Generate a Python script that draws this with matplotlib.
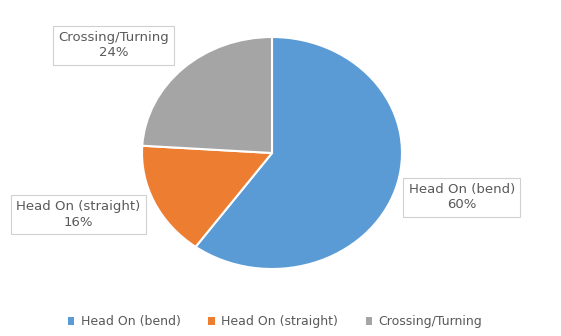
import matplotlib
matplotlib.use('Agg')
import matplotlib.pyplot as plt
from matplotlib.patches import Patch

# %% data

categories = ['Head On (bend)', 'Head On (straight)', 'Crossing/Turning']
shares = [60, 16, 24]
colors = ['#5B9BD5', '#ED7D31', '#A5A5A5']
# label box centres, in pie (data) coordinates
label_pos = [(1.46, -0.38), (-1.49, -0.53), (-1.22, 0.93)]

text_color = '#595959'

# %% figure

fig = plt.figure(figsize=(5.61, 3.36), dpi=100)
ax = fig.add_axes([142 / 561, 67 / 336, 260 / 561, 232 / 336])

wedges, _ = ax.pie(shares, colors=colors, startangle=90, counterclock=False,
                   radius=1.0, wedgeprops=dict(edgecolor='white', linewidth=1.5))
ax.set_aspect('auto')
ax.set_xlim(-1, 1)
ax.set_ylim(-1, 1)
ax.axis('off')

for name, val, (lx, ly) in zip(categories, shares, label_pos):
    ax.text(lx, ly, '%s\n%d%%' % (name, val), ha='center', va='center',
            fontsize=9.5, color=text_color, linespacing=1.25,
            bbox=dict(boxstyle='square,pad=0.4', facecolor='white',
                      edgecolor='#D0D0D0', linewidth=0.8),
            clip_on=False)

handles = [Patch(facecolor=c, edgecolor='none') for c in colors]
fig.legend(handles, categories, loc='center', bbox_to_anchor=(275 / 561, 1 - 322 / 336),
           ncol=3, frameon=False, fontsize=9, labelcolor=text_color,
           handlelength=0.55, handleheight=0.55, handletextpad=0.5, columnspacing=2.2)

plt.savefig('out.png', dpi=100)
